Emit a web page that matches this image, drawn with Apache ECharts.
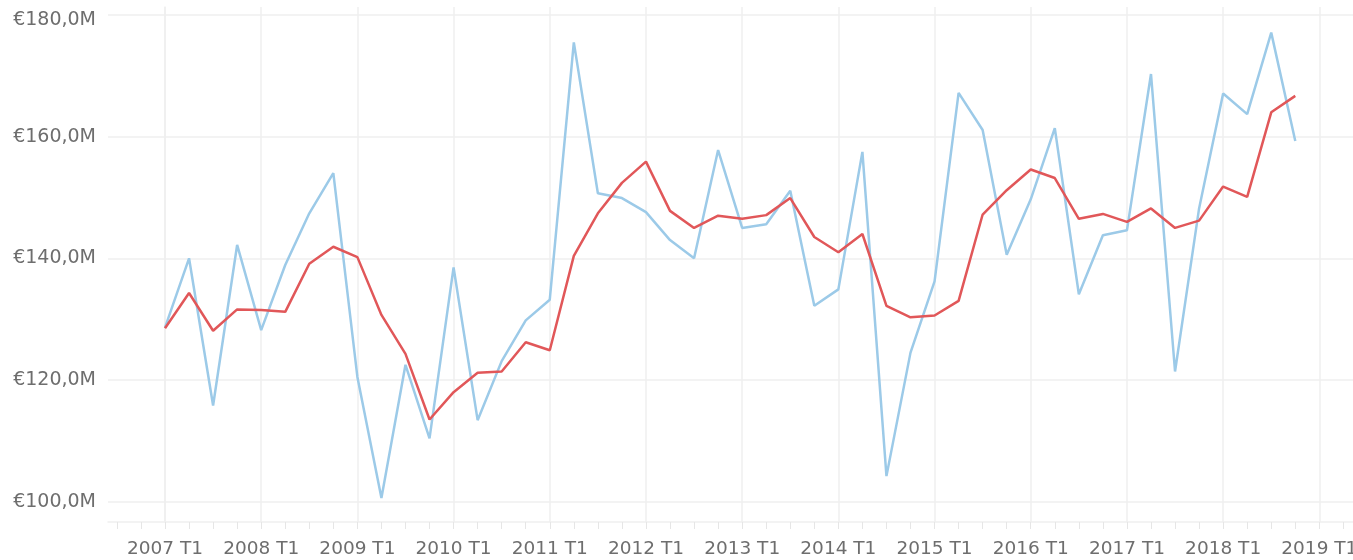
<!DOCTYPE html>
<html>
<head>
<meta charset="utf-8">
<title>Chart</title>
<script src="https://cdn.jsdelivr.net/npm/echarts@6/dist/echarts.min.js"></script>
<style>
  html, body { margin: 0; padding: 0; background: #fff; }
  #main { width: 1353px; height: 560px; }
</style>
</head>
<body>
<div id="main"></div>
<script>
// quarters 2007 T1 .. 2018 T4 (index 0..47)
var quarters = [];
for (var y = 2007; y <= 2018; y++) {
    for (var q = 1; q <= 4; q++) quarters.push(y + ' T' + q);
}
// year tick labels (index of each label on the quarter scale)
var yearLabels = ['2007 T1', '2008 T1', '2009 T1', '2010 T1', '2011 T1', '2012 T1', '2013 T1',
                  '2014 T1', '2015 T1', '2016 T1', '2017 T1', '2018 T1', '2019 T1'];
var yLabels = [100, 120, 140, 160, 180];

// values in millions of euros
var seriesBlue = [
    128.6, 140.0, 115.8, 142.2, 128.2, 138.9, 147.4, 154.0,
    120.5, 100.6, 122.5, 110.4, 138.5, 113.4, 123.1, 129.8,
    133.2, 175.5, 150.7, 149.9, 147.6, 143.0, 140.0, 157.8,
    145.0, 145.6, 151.1, 132.2, 134.9, 157.5, 104.2, 124.5,
    136.2, 167.2, 161.1, 140.6, 149.7, 161.4, 134.1, 143.8,
    144.6, 170.3, 121.4, 148.2, 167.1, 163.7, 177.1, 159.3
];
var seriesRed = [
    128.5, 134.3, 128.1, 131.6, 131.5, 131.2, 139.1, 141.9,
    140.2, 130.7, 124.3, 113.5, 118.0, 121.2, 121.4, 126.2,
    124.9, 140.4, 147.4, 152.4, 155.9, 147.8, 145.0, 147.0,
    146.5, 147.1, 149.9, 143.5, 141.0, 144.0, 132.2, 130.3,
    130.6, 133.0, 147.2, 151.2, 154.6, 153.2, 146.5, 147.3,
    146.0, 148.2, 145.0, 146.2, 151.8, 150.1, 164.0, 166.7
];

function labelIndex(label) {
    var p = label.split(' T');
    return (parseInt(p[0], 10) - 2007) * 4 + parseInt(p[1], 10) - 1;
}
var yearTicks = yearLabels.map(labelIndex);
var quarterTicks = [];
for (var i = -2; i <= 49; i++) quarterTicks.push(i);

function toPairs(arr) {
    return arr.map(function (v, i) { return [i, v]; });
}

var textColor = '#6e6e6e';
var gridColor = '#efefef';
var font = 'DejaVu Sans';
var xMin = -2.37, xMax = 49.4;

var myChart = echarts.init(document.getElementById('main'));
var option = {
    animation: false,
    grid: { left: 108, right: 0, top: 7, bottom: 38, containLabel: false, outerBoundsMode: 'none' },
    xAxis: [
        {
            type: 'value',
            min: xMin,
            max: xMax,
            axisLine: { show: true, lineStyle: { color: gridColor, width: 1.5 } },
            axisTick: { show: false, customValues: yearTicks },
            axisLabel: {
                customValues: yearTicks,
                color: textColor,
                fontFamily: font,
                fontSize: 18.5,
                margin: 18,
                formatter: function (v) { return yearLabels[yearTicks.indexOf(v)]; }
            },
            splitLine: { show: true, lineStyle: { color: gridColor, width: 1.5 } }
        },
        {
            type: 'value',
            position: 'bottom',
            min: xMin,
            max: xMax,
            axisLine: { show: false },
            axisTick: { show: true, customValues: quarterTicks, length: 7, lineStyle: { color: '#e6e6e6', width: 1 } },
            axisLabel: { show: false },
            splitLine: { show: false }
        }
    ],
    yAxis: {
        type: 'value',
        min: 96.66,
        max: 181.31,
        axisLine: { show: true, lineStyle: { color: gridColor, width: 1.5 } },
        axisTick: { show: false, customValues: yLabels },
        axisLabel: {
            customValues: yLabels,
            color: textColor,
            fontFamily: font,
            fontSize: 19,
            margin: 12,
            formatter: function (v) {
                var s = '€' + v + ',0M';
                // top label sits a little below its gridline
                return v === yLabels[yLabels.length - 1] ? '{top|' + s + '}' : s;
            },
            rich: {
                top: { color: textColor, fontFamily: font, fontSize: 19, padding: [11, 0, 0, 0] }
            }
        },
        splitLine: { show: true, lineStyle: { color: gridColor, width: 1.5 } }
    },
    series: [
        {
            name: 'Blue',
            type: 'line',
            data: toPairs(seriesBlue),
            showSymbol: false,
            lineStyle: { color: '#9ccae8', width: 2.5 },
            itemStyle: { color: '#9ccae8' }
        },
        {
            name: 'Red',
            type: 'line',
            data: toPairs(seriesRed),
            showSymbol: false,
            lineStyle: { color: '#e15759', width: 2.5 },
            itemStyle: { color: '#e15759' }
        }
    ]
};
myChart.setOption(option);

window.addEventListener('resize', function () {
    myChart.resize();
});
</script>
</body>
</html>
